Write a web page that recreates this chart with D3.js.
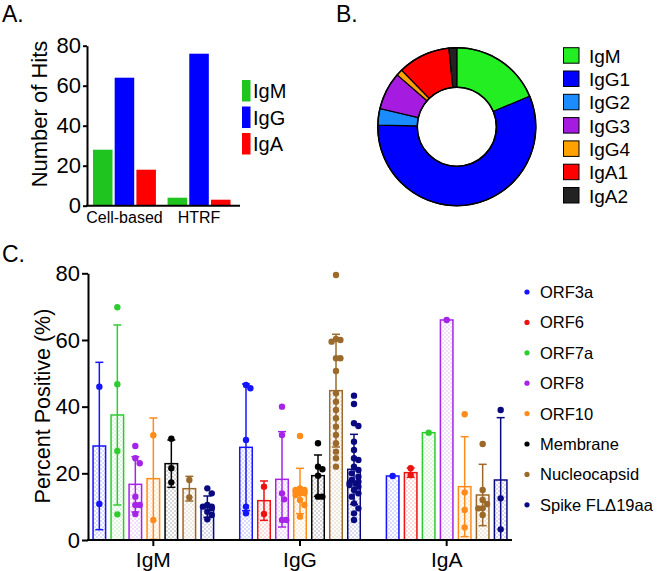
<!DOCTYPE html>
<html><head><meta charset="utf-8">
<script src="https://cdn.jsdelivr.net/npm/d3@7"></script>
<style>
body{margin:0;background:#fff;}
svg{display:block;font-family:"Liberation Sans",Arial,Helvetica,sans-serif;}
</style></head>
<body>
<svg id="chart" width="661" height="571"></svg>
<script>
// ---------- Panel A data ----------
const assaysA = ["Cell-based", "HTRF"];
const isotypesA = ["IgM", "IgG", "IgA"];
const colorsA = ["#1fc41f", "#0000ff", "#ff0000"];
const hitsIgM = [28, 4];
const hitsIgG = [64, 76];
const hitsIgA = [18, 3];
const ticksA = [0, 20, 40, 60, 80];

// ---------- Panel B data ----------
const subclassesB = ["IgM", "IgG1", "IgG2", "IgG3", "IgG4", "IgA1", "IgA2"];
const sharesB = [18.7, 56.6, 3.4, 7.7, 1.3, 10.7, 1.6];
const colorsB = ["#22ee22", "#0000ff", "#1a8cff", "#a51ce0", "#ffa200", "#ff0000", "#222222"];

// ---------- Panel C data ----------
const isotypesC = ["IgM", "IgG", "IgA"];
const antigens = ["ORF3a", "ORF6", "ORF7a", "ORF8", "ORF10", "Membrane", "Nucleocapsid", "Spike FL\u039419aa"];
const antigenColors = ["#1414ff", "#ee1111", "#2fcc2f", "#a524e8", "#ff8c1a", "#000000", "#9b6a2b", "#0a0a80"];
const ticksC = [0, 20, 40, 60, 80];

const meanIgM = [28.2, null, 37.5, 16.7, 18.4, 22.9, 15.4, 10.0];
const sdIgM   = [25.1, null, 27.0, 8.3, 18.2, 7.1, 3.7, 3.2];
const meanIgG = [27.8, 11.8, null, 18.2, 14.7, 19.3, 44.8, 21.2];
const sdIgG   = [19.0, 5.9, null, 14.3, 6.8, 6.2, 16.9, 10.5];
const meanIgA = [19.2, 20.2, 32.2, 66.0, 16.0, null, 13.5, 18.0];
const sdIgA   = [0, 1.4, 0, 0, 15.0, null, 9.2, 18.7];

const ptsIgM = [
  [46, 10.8],
  null,
  [69.8, 46.7, 26.7, 7.7],
  [28.2, 24.5, 23, 13, 10.5, 10.5, 7.8],
  [31.4, 6],
  [30.4, 21.5, 17.3],
  [18, 12.8],
  [15.5, 14, 10.5, 10, 10, 9.5, 8.5, 7.5, 6.2]
];
const ptsIgG = [
  [46.5, 45.5, 30, 10, 8],
  [16, 7.8],
  null,
  [40, 31.5, 14, 12.2, 6, 6],
  [31.2, 15.5, 15, 15, 14.5, 14.5, 14, 14, 13.5, 12, 10.5, 7],
  [29, 22, 21.2, 19.3, 13, 13],
  [79.5, 60.3, 60, 59.5, 54.5, 54.5, 50.7, 44, 41.5, 39, 36.5, 34, 31.5, 29, 26.5, 24.5, 22],
  [43.3, 40.8, 35, 34.2, 29.5, 27, 24.5, 24, 22, 21, 20, 19, 18, 17.5, 17.2, 17, 16.5, 16, 15, 14, 13, 11, 9.5, 8, 6]
];
const ptsIgA = [
  [19.2],
  [21.5, 19.5],
  [32.2],
  [66],
  [37.7, 14.3, 9, 3.8],
  null,
  [28.8, 15, 12, 10.8, 9.5, 9.5, 7.5],
  [39, 12.5, 3.2]
];

const svg = d3.select("#chart");
const FONT = "Liberation Sans, Arial, sans-serif";

// ================= Panel A =================
(function(){
  const gA = svg.append("g");
  gA.append("text").attr("x", 2).attr("y", 22).attr("font-size", 23).text("A.");
  const y = d3.scaleLinear().domain([0, 80]).range([205.7, 45.7]);
  const x0 = d3.scaleBand().domain(assaysA).range([87, 236.5]).paddingInner(0.156).paddingOuter(0.08);
  const x1 = d3.scaleBand().domain(isotypesA).range([0, x0.bandwidth()]).paddingInner(0.1);
  const series = [hitsIgM, hitsIgG, hitsIgA];
  isotypesA.forEach((iso, k) => {
    gA.selectAll(null).data(assaysA).enter().append("rect")
      .attr("x", d => x0(d) + x1(iso))
      .attr("y", (d, i) => y(series[k][i]))
      .attr("width", x1.bandwidth())
      .attr("height", (d, i) => y(0) - y(series[k][i]))
      .attr("fill", colorsA[k]);
  });
  const ya = gA.append("g").attr("transform", "translate(87,0)")
    .call(d3.axisLeft(y).tickValues(ticksA).tickSize(4).tickPadding(2).tickSizeOuter(0));
  ya.selectAll("text").attr("font-size", 22).attr("font-family", FONT).attr("fill", "#000");
  ya.selectAll("line,path").attr("stroke", "#000").attr("stroke-width", 2);
  const xa = gA.append("g").attr("transform", "translate(0,205.7)")
    .call(d3.axisBottom(x0).tickSize(0).tickPadding(6).tickSizeOuter(0));
  xa.select("path").remove();
  xa.selectAll("text").attr("font-size", 16).attr("font-family", FONT).attr("fill", "#000");
  gA.append("line").attr("x1", 86).attr("x2", 240).attr("y1", 205.7).attr("y2", 205.7)
    .attr("stroke", "#000").attr("stroke-width", 2);
  gA.append("text").attr("transform", "translate(47,114) rotate(-90)")
    .attr("text-anchor", "middle").attr("font-size", 22).text("Number of Hits");
  // legend
  const lg = gA.append("g");
  isotypesA.forEach((iso, k) => {
    const yy = 80 + k * 26.5;
    lg.append("rect").attr("x", 242).attr("y", yy).attr("width", 8.5).attr("height", 21.5).attr("fill", colorsA[k]);
    lg.append("text").attr("x", 253).attr("y", yy + 18).attr("font-size", 20).text(iso);
  });
})();

// ================= Panel B =================
(function(){
  const gB = svg.append("g");
  gB.append("text").attr("x", 336).attr("y", 22).attr("font-size", 23).text("B.");
  const pie = d3.pie().sort(null).value(d => d)(sharesB);
  const arc = d3.arc().innerRadius(39.5).outerRadius(79);
  const g = gB.append("g").attr("transform", "translate(456.8,126.7)");
  g.selectAll("path").data(pie).enter().append("path")
    .attr("d", arc).attr("fill", (d, i) => colorsB[i])
    .attr("stroke", "#000").attr("stroke-width", 1.2);
  g.append("circle").attr("r", 79).attr("fill", "none").attr("stroke", "#000").attr("stroke-width", 1.5);
  g.append("circle").attr("r", 39.5).attr("fill", "none").attr("stroke", "#000").attr("stroke-width", 1.5);
  subclassesB.forEach((s, i) => {
    const yy = 47.7 + i * 23.3;
    gB.append("rect").attr("x", 563.5).attr("y", yy).attr("width", 15.5).attr("height", 15.5)
      .attr("fill", colorsB[i]).attr("stroke", "#000").attr("stroke-width", 1);
    gB.append("text").attr("x", 589).attr("y", yy + 15).attr("font-size", 19).text(s);
  });
})();

// ================= Panel C =================
(function(){
  const gC = svg.append("g");
  gC.append("text").attr("x", 2).attr("y", 262).attr("font-size", 23).text("C.");
  const y = d3.scaleLinear().domain([0, 80]).range([540, 273.3]);
  const xg = d3.scaleBand().domain(isotypesC).range([80, 520]);
  const xi = d3.scaleBand().domain(d3.range(7)).range([-63, 63]).paddingInner(0.22).paddingOuter(0.11);

  // dotted fill patterns
  const defs = svg.append("defs");
  antigenColors.forEach((c, i) => {
    const p = defs.append("pattern").attr("id", "pat" + i).attr("patternUnits", "userSpaceOnUse")
      .attr("width", 4).attr("height", 4);
    p.append("rect").attr("width", 4).attr("height", 4).attr("fill", "#fff");
    p.append("rect").attr("x", 0.5).attr("y", 0.5).attr("width", 1).attr("height", 1).attr("fill", c).attr("opacity", 0.6);
    p.append("rect").attr("x", 2.5).attr("y", 2.5).attr("width", 1).attr("height", 1).attr("fill", c).attr("opacity", 0.6);
  });

  const means = [meanIgM, meanIgG, meanIgA];
  const sds = [sdIgM, sdIgG, sdIgA];
  const pts = [ptsIgM, ptsIgG, ptsIgA];
  const r = 3.2;

  isotypesC.forEach((iso, gi) => {
    const present = antigens.map((a, i) => i).filter(i => means[gi][i] != null);
    present.forEach((ai, slot) => {
      const cx = xg(iso) + xg.bandwidth() / 2 + xi(slot);
      const bw = xi.bandwidth();
      const col = antigenColors[ai];
      const m = means[gi][ai], s = sds[gi][ai];
      const bar = gC.append("g");
      bar.append("rect").attr("x", cx + 0.75).attr("y", y(m)).attr("width", bw - 1.5).attr("height", y(0) - y(m))
        .attr("fill", "url(#pat" + ai + ")").attr("stroke", col).attr("stroke-width", 1.5);
      if (s > 0) {
        const mid = cx + bw / 2;
        const lo = Math.max(0, m - s), hi = m + s;
        bar.append("line").attr("x1", mid).attr("x2", mid).attr("y1", y(lo)).attr("y2", y(hi))
          .attr("stroke", col).attr("stroke-width", 1.5);
        [hi, lo].forEach(v => {
          bar.append("line").attr("x1", mid - 4).attr("x2", mid + 4).attr("y1", y(v)).attr("y2", y(v))
            .attr("stroke", col).attr("stroke-width", 1.5);
        });
      }
      // swarm-like layout of points
      const vals = (pts[gi][ai] || []).slice();
      const placed = [];
      const maxOff = bw / 2 - 1;
      vals.forEach(v => {
        const py = y(v);
        const cands = [0];
        for (let k = 1; k <= 6; k++) { cands.push(k * 2.2, -k * 2.2); }
        let best = null, bestOv = Infinity;
        for (const o of cands) {
          if (Math.abs(o) > maxOff) continue;
          let ov = 0;
          placed.forEach(p => {
            const d = Math.hypot(p.x - o, p.y - py);
            if (d < 2 * r * 0.95) ov += (2 * r * 0.95 - d);
          });
          if (ov < bestOv - 1e-6) { bestOv = ov; best = o; }
          if (ov === 0) break;
        }
        placed.push({x: best, y: py});
      });
      bar.selectAll("circle").data(placed).enter().append("circle")
        .attr("cx", d => cx + bw / 2 + d.x).attr("cy", d => d.y).attr("r", r).attr("fill", col);
    });
  });

  const ya = gC.append("g").attr("transform", "translate(88,0)")
    .call(d3.axisLeft(y).tickValues(ticksC).tickSize(6).tickPadding(2).tickSizeOuter(0));
  ya.selectAll("text").attr("font-size", 22).attr("font-family", FONT).attr("fill", "#000");
  ya.selectAll("line,path").attr("stroke", "#000").attr("stroke-width", 2);
  const xa = gC.append("g").attr("transform", "translate(0,540)")
    .call(d3.axisBottom(xg).tickSize(6).tickPadding(6).tickSizeOuter(0));
  xa.select("path").remove();
  xa.selectAll("line").attr("stroke", "#000").attr("stroke-width", 2);
  xa.selectAll("text").attr("font-size", 21).attr("font-family", FONT).attr("fill", "#000");
  gC.append("line").attr("x1", 87).attr("x2", 512).attr("y1", 540).attr("y2", 540)
    .attr("stroke", "#000").attr("stroke-width", 2);
  gC.append("text").attr("transform", "translate(50,406) rotate(-90)")
    .attr("text-anchor", "middle").attr("font-size", 21.5).text("Percent Positive (%)");

  antigens.forEach((a, i) => {
    const yy = 292 + i * 30.4;
    gC.append("circle").attr("cx", 527).attr("cy", yy).attr("r", 2.6).attr("fill", antigenColors[i]);
    gC.append("text").attr("x", 540).attr("y", yy + 6).attr("font-size", 16.5).text(a);
  });
})();
</script>
</body></html>
